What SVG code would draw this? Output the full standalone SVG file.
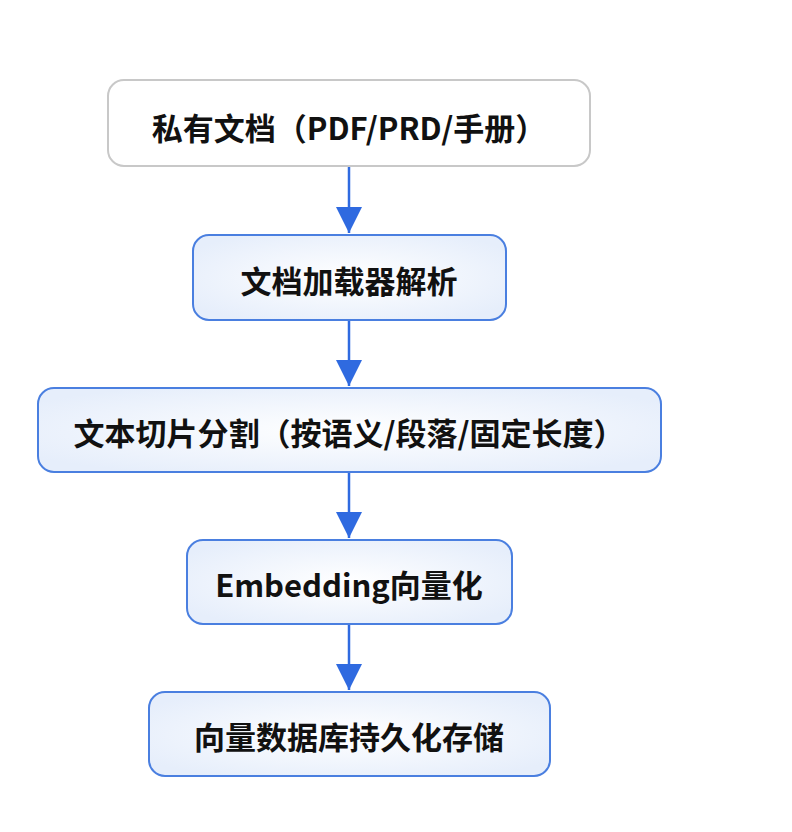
<svg xmlns="http://www.w3.org/2000/svg" width="792" height="832" viewBox="0 0 792 832">
<defs>
<radialGradient id="bg" cx="50%" cy="50%" r="60%"><stop offset="0%" stop-color="#ffffff"/><stop offset="100%" stop-color="#e6eefb"/></radialGradient>
<marker id="a" viewBox="0 0 28 26" refX="26" refY="13" markerWidth="28" markerHeight="26" markerUnits="userSpaceOnUse" orient="auto"><path d="M0,0 L26,13 L0,26 z" fill="#2f6ae0"/></marker>
</defs>
<style>
.b{fill:url(#bg);stroke:#4a7fe0;stroke-width:2}
.w{fill:#ffffff;stroke:#c8c8c8;stroke-width:2}
text{font-family:"Noto Sans CJK SC","Noto Sans",sans-serif;font-weight:bold;font-size:31px;fill:#111;text-anchor:middle;dominant-baseline:central}
.c{stroke:#2f6ae0;stroke-width:2.5;fill:none;marker-end:url(#a)}
</style>
<rect width="792" height="832" fill="#ffffff"/>
<g id="n1"><rect class="w" x="108" y="80" width="482" height="86" rx="16"/><text x="349" y="126">私有文档（PDF/PRD/手册）</text></g>
<g id="n2"><rect class="b" x="193" y="235" width="313" height="85" rx="16"/><text x="349" y="279">文档加载器解析</text></g>
<g id="n3"><rect class="b" x="38" y="388" width="623" height="84" rx="16"/><text x="349" y="431">文本切片分割（按语义/段落/固定长度）</text></g>
<g id="n4"><rect class="b" x="187" y="540" width="325" height="84" rx="16"/><text x="349" y="583">Embedding向量化</text></g>
<g id="n5"><rect class="b" x="149" y="692" width="401" height="84" rx="16"/><text x="349" y="735">向量数据库持久化存储</text></g>
<g id="connectors">
<line class="c" x1="349" y1="167" x2="349" y2="233"/>
<line class="c" x1="349" y1="321" x2="349" y2="386"/>
<line class="c" x1="349" y1="473" x2="349" y2="538"/>
<line class="c" x1="349" y1="625" x2="349" y2="690"/>
</g>
</svg>
